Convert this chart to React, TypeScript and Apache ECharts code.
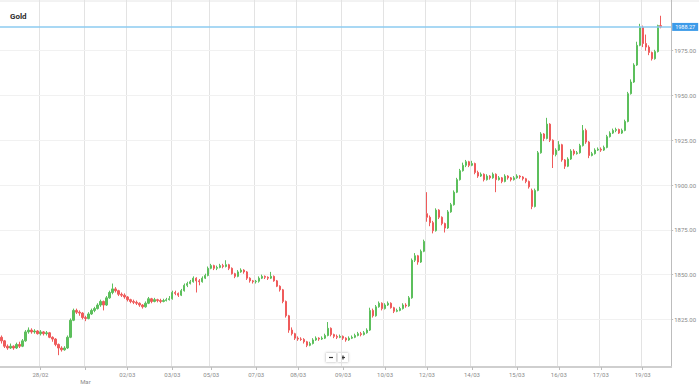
import React, { useEffect, useRef } from 'react';
import * as echarts from 'echarts';

// [open, close, low, high]
const candles: number[][] = [
  [1815, 1813, 1811.5, 1816], [1813, 1810, 1809, 1813.5], [1810, 1809, 1808, 1811], [1809, 1810, 1808.5, 1811.5],
  [1810, 1809, 1808, 1810.5], [1809, 1811, 1808.5, 1812], [1811, 1810, 1809, 1812.5], [1810, 1813, 1809.5, 1814],
  [1813, 1818, 1812.5, 1819], [1818, 1819, 1817, 1820.5], [1819, 1818, 1817, 1820], [1818, 1818.5, 1817, 1819.5],
  [1818.5, 1817, 1816.5, 1819], [1817, 1818, 1816, 1819], [1818, 1817, 1816, 1818.5], [1817, 1817.5, 1816, 1818.5],
  [1817.5, 1815, 1814.5, 1818], [1815, 1814, 1812.5, 1815.5], [1814, 1811, 1810, 1814.5], [1811, 1809, 1805, 1811.5],
  [1809, 1808, 1807, 1810], [1808, 1809, 1807.5, 1810], [1809, 1815, 1808.5, 1816], [1815, 1824.5, 1814.5, 1825.5],
  [1824.5, 1830, 1824, 1831], [1830, 1829, 1828, 1831], [1829, 1828.5, 1827, 1830], [1828.5, 1826, 1825, 1829],
  [1826, 1825.5, 1824, 1827], [1825.5, 1828, 1825, 1829], [1828, 1830, 1827.5, 1831], [1830, 1831, 1829, 1832],
  [1831, 1833, 1830.5, 1834], [1833, 1835, 1832, 1836], [1835, 1833, 1830, 1835.5], [1833, 1837, 1832.5, 1838],
  [1837, 1840, 1836.5, 1841], [1840, 1842, 1839, 1845], [1842, 1841, 1840, 1843], [1841, 1839, 1838, 1841.5],
  [1839, 1838.5, 1837.5, 1840], [1838.5, 1837.5, 1836.5, 1839.5], [1837.5, 1836, 1835, 1838], [1836, 1835, 1834, 1836.5],
  [1835, 1834.5, 1833.5, 1836], [1834.5, 1834, 1833, 1835.5], [1834, 1833, 1832, 1834.5], [1833, 1832, 1831, 1833.5],
  [1832, 1834, 1831.5, 1835], [1834, 1836.5, 1833.5, 1837.5], [1836.5, 1835, 1834, 1837], [1835, 1836, 1834.5, 1837],
  [1836, 1835.5, 1834.5, 1836.5], [1835.5, 1835, 1834, 1836.5], [1835, 1835.5, 1834.5, 1836.5], [1835.5, 1836, 1835, 1837],
  [1836, 1836.5, 1835.5, 1838], [1836.5, 1840, 1836, 1841], [1840, 1839.5, 1838.5, 1841], [1839.5, 1838.5, 1837.5, 1840],
  [1838.5, 1841, 1838, 1842], [1841, 1844, 1840.5, 1845], [1844, 1845, 1843, 1846], [1845, 1846, 1844.5, 1847],
  [1846, 1848, 1845.5, 1849], [1848, 1846.5, 1840, 1848.5], [1846.5, 1846, 1844, 1847.5], [1846, 1848, 1845.5, 1849],
  [1848, 1849.5, 1847.5, 1850.5], [1849.5, 1853.5, 1849, 1854.5], [1853.5, 1855, 1853, 1856], [1855, 1853.5, 1852.5, 1855.5],
  [1853.5, 1854, 1852.5, 1855], [1854, 1855, 1853.5, 1856], [1855, 1854.5, 1853.5, 1856], [1854.5, 1855.5, 1854, 1858],
  [1855.5, 1853.5, 1852.5, 1856], [1853.5, 1850.5, 1850, 1854], [1850.5, 1849, 1848, 1851], [1849, 1851.5, 1848.5, 1852.5],
  [1851.5, 1852.5, 1851, 1853.5], [1852.5, 1851.5, 1850.5, 1853], [1851.5, 1848, 1847, 1852], [1848, 1846.5, 1845.5, 1848.5],
  [1846.5, 1846, 1845, 1847], [1846, 1846.3, 1845, 1847], [1846.3, 1848, 1845.5, 1849], [1848, 1849, 1847.5, 1850],
  [1849, 1848.5, 1847.5, 1849.5], [1848.5, 1848, 1847, 1849], [1848, 1849, 1847.5, 1851.5], [1849, 1846.5, 1846, 1849.5],
  [1846.5, 1843.5, 1843, 1847], [1843.5, 1841.5, 1840.5, 1844], [1841.5, 1835, 1834, 1842], [1835, 1827, 1826, 1835.5],
  [1827, 1819, 1817.5, 1827.5], [1819, 1817, 1816, 1820.5], [1817, 1814.5, 1813.5, 1817.5], [1814.5, 1814, 1813, 1815.5],
  [1814, 1813.8, 1813, 1815], [1813.8, 1812.5, 1811.5, 1814.5], [1812.5, 1810.5, 1809.5, 1813], [1810.5, 1811.5, 1810, 1812.5],
  [1811.5, 1813.5, 1811, 1814.5], [1813.5, 1814.5, 1813, 1815.5], [1814.5, 1814, 1813, 1815], [1814, 1814.5, 1813.5, 1815.5],
  [1814.5, 1816, 1814, 1817], [1816, 1820, 1815.5, 1823.5], [1820, 1816.5, 1815.5, 1820.5], [1816.5, 1815.5, 1814.5, 1817],
  [1815.5, 1815, 1814, 1816.5], [1815, 1815.5, 1814.5, 1816.5], [1815.5, 1814.5, 1813.5, 1816], [1814.5, 1813.5, 1812.5, 1815],
  [1813.5, 1814.5, 1813, 1815.5], [1814.5, 1815, 1814, 1816], [1815, 1816, 1814.5, 1817], [1816, 1817, 1815.5, 1818],
  [1817, 1816.5, 1815.5, 1818], [1816.5, 1817.5, 1816, 1818.5], [1817.5, 1819, 1817, 1820], [1819, 1830, 1818.5, 1831.5],
  [1830, 1827, 1826, 1831], [1827, 1832, 1826.5, 1833], [1832, 1834, 1831.5, 1835], [1834, 1831, 1830, 1834.5],
  [1831, 1833, 1830.5, 1834], [1833, 1834, 1832.5, 1835], [1834, 1831.5, 1831, 1834.5], [1831.5, 1829.5, 1828.5, 1832],
  [1829.5, 1830, 1829, 1831], [1830, 1831, 1829.5, 1832], [1831, 1833, 1830.5, 1834], [1833, 1832.5, 1831.5, 1834],
  [1832.5, 1837, 1832, 1838], [1837, 1858, 1836.5, 1859], [1858, 1860.5, 1857, 1862], [1860.5, 1857, 1855.5, 1861],
  [1857, 1863, 1856.5, 1864], [1863, 1868.5, 1862.5, 1869.5], [1884, 1882, 1879.5, 1896], [1882, 1879, 1877, 1883],
  [1879, 1874.5, 1873, 1880], [1874.5, 1886, 1874, 1887], [1886, 1882, 1881, 1886.5], [1882, 1878.5, 1877.5, 1882.5],
  [1878.5, 1876, 1873.5, 1879], [1876, 1885, 1875.5, 1886], [1885, 1889, 1884.5, 1890], [1889, 1896, 1888.5, 1897],
  [1896, 1903, 1895.5, 1904], [1903, 1908, 1902.5, 1909], [1908, 1911, 1907.5, 1912.5], [1911, 1913, 1910, 1914],
  [1913, 1911, 1910, 1913.5], [1911, 1912, 1910.5, 1913.5], [1912, 1907, 1906, 1912.5], [1907, 1905, 1904, 1908],
  [1905, 1906, 1904.5, 1907], [1906, 1903, 1902, 1906.5], [1903, 1905, 1902.5, 1906], [1905, 1904, 1903, 1905.5],
  [1904, 1906, 1903.5, 1907], [1906, 1903, 1896, 1906.5], [1903, 1904, 1902.5, 1905], [1904, 1902, 1901, 1904.5],
  [1902, 1905, 1901.5, 1906], [1905, 1904, 1903, 1905.5], [1904, 1903, 1902, 1904.5], [1903, 1904, 1902.5, 1905],
  [1904, 1905, 1903.5, 1906], [1905, 1904.5, 1903.5, 1905.5], [1904.5, 1903.5, 1902.5, 1905], [1903.5, 1902, 1901, 1904],
  [1902, 1899, 1898, 1902.5], [1897, 1888, 1886.5, 1898], [1888, 1897, 1887.5, 1898], [1897, 1918, 1896.5, 1919],
  [1918, 1928.5, 1917.5, 1929.5], [1928.5, 1926, 1924.5, 1929], [1926, 1934, 1925.5, 1937.5], [1934, 1925, 1924, 1934.5],
  [1925, 1917, 1909.5, 1925.5], [1917, 1919.5, 1916, 1920.5], [1919.5, 1922.5, 1919, 1924.5], [1922.5, 1914, 1913, 1923],
  [1914, 1910.5, 1909, 1914.5], [1910.5, 1914.5, 1910, 1915.5], [1914.5, 1919, 1914, 1920], [1919, 1917.5, 1916.5, 1920],
  [1917.5, 1918, 1917, 1919], [1918, 1922, 1917.5, 1923], [1922, 1930.5, 1921.5, 1933.5], [1930.5, 1924, 1923, 1931.5],
  [1924, 1916.5, 1915, 1924.5], [1916.5, 1917.5, 1916, 1918.5], [1917.5, 1919.5, 1917, 1920.5], [1919.5, 1920, 1919, 1921],
  [1920, 1919.5, 1918.5, 1921], [1919.5, 1921, 1919, 1922], [1921, 1927, 1920.5, 1928], [1927, 1929, 1926.5, 1930],
  [1929, 1930.5, 1928.5, 1931.5], [1930.5, 1931, 1929.5, 1932], [1931, 1929, 1928.5, 1931.5], [1929, 1930.5, 1928.5, 1931.5],
  [1930.5, 1935.5, 1930, 1936.5], [1935.5, 1951, 1935, 1952], [1951, 1957.5, 1950.5, 1959], [1957.5, 1967, 1957, 1968],
  [1967, 1978, 1966.5, 1980], [1978, 1988, 1977.5, 1990], [1988, 1979, 1977, 1989], [1979, 1977, 1975, 1984],
  [1977, 1974, 1972.5, 1978], [1974, 1970.5, 1969.5, 1974.5], [1970.5, 1974.5, 1970, 1975.5], [1974.5, 1989, 1974, 1989.5],
  [1989, 1988.27, 1987.5, 1994.5],
];

const slotCount = 224;
const tickIndex = [13, 28, 42, 57, 70, 85, 99, 114, 128, 142, 157, 172, 186, 200, 214];
const tickText = ['28/02', 'Mar', '02/03', '03/03', '05/03', '07/03', '08/03', '09/03', '10/03', '12/03', '14/03', '15/03', '16/03', '17/03', '19/03'];
const yTicks = [1825, 1850, 1875, 1900, 1925, 1950, 1975];
const yMin = 1798.4;
const yMax = 2003.3;
const lastPrice = 1988.27;
const title = 'Gold';

const UP = '#5cbf5c';
const DOWN = '#ef5b5b';
const FONT = 'Roboto, "Noto Sans", sans-serif';

export default function App() {
  const ref = useRef<HTMLDivElement>(null);
  useEffect(() => {
    if (!ref.current) return;
    const chart = echarts.init(ref.current, undefined, { renderer: 'svg' });
    const categories = Array.from({ length: slotCount }, (_, i) => String(i));
    const labelAt = new Map<number, string>();
    tickIndex.forEach((idx, k) => labelAt.set(idx, tickText[k]));
    const showAt = (index: number) => labelAt.has(index);

    chart.setOption({
      animation: false,
      backgroundColor: '#ffffff',
      textStyle: { fontFamily: FONT },
      grid: { left: 0, right: 26, top: 0, bottom: 19, containLabel: false },
      xAxis: {
        type: 'category',
        data: categories,
        boundaryGap: true,
        axisLine: { show: true, lineStyle: { color: '#cfcfcf', width: 2 } },
        axisTick: { show: true, interval: showAt, alignWithLabel: true, length: 3, lineStyle: { color: '#bdbdbd' } },
        axisLabel: {
          show: true,
          interval: showAt,
          formatter: (_v: string, index: number) => {
            const t = labelAt.get(index) || '';
            return t === 'Mar' ? '\nMar' : t;
          },
          fontSize: 6,
          lineHeight: 7,
          color: '#8a8a8a',
          margin: 4,
          fontFamily: FONT,
        },
        splitLine: { show: true, interval: showAt, lineStyle: { color: '#e3e3e3', width: 1 } },
      },
      yAxis: {
        type: 'value',
        position: 'right',
        min: yMin,
        max: yMax,
        scale: true,
        axisLine: { show: true, lineStyle: { color: '#bdbdbd', width: 1 } },
        axisTick: { show: true, customValues: yTicks, length: 2, lineStyle: { color: '#bdbdbd' } },
        axisLabel: {
          show: true,
          customValues: yTicks,
          formatter: (v: number) => v.toFixed(2),
          fontSize: 6,
          color: '#8a8a8a',
          margin: 3,
          fontFamily: FONT,
        },
        splitLine: { show: false },
      },
      series: [
        {
          type: 'line',
          data: [],
          silent: true,
          markLine: {
            silent: true,
            symbol: ['none', 'none'],
            z: 0,
            label: { show: false },
            lineStyle: { color: '#f1f1f1', width: 1, type: 'solid' },
            data: yTicks.map((v) => ({ yAxis: v })),
          },
        },
        {
          type: 'candlestick',
          data: candles,
          barWidth: 1.9,
          z: 3,
          itemStyle: {
            color: UP,
            color0: DOWN,
            borderColor: UP,
            borderColor0: DOWN,
            borderWidth: 1,
          },
          markLine: {
            silent: true,
            symbol: ['none', 'none'],
            z: 6,
            lineStyle: { color: '#8ccbf1', width: 1.5, type: 'solid', opacity: 1 },
            label: {
              show: true,
              position: 'end',
              distance: 1,
              formatter: lastPrice.toFixed(2),
              backgroundColor: '#3d9be9',
              color: '#ffffff',
              fontSize: 5.5,
              padding: [1, 3, 1, 3],
              fontFamily: FONT,
            },
            data: [{ yAxis: lastPrice }],
          },
        },
      ],
      graphic: [
        { type: 'line', shape: { x1: 0, y1: 1, x2: 699, y2: 1 }, style: { stroke: '#e6e6e6', lineWidth: 1 }, silent: true },
        {
          type: 'text',
          left: 10,
          top: 12,
          style: { text: title, font: `bold 8px ${FONT}`, fill: '#2a2a2a' },
        },
        {
          type: 'group',
          left: 325,
          top: 352,
          children: [
            { type: 'rect', shape: { x: 0, y: 0, width: 11, height: 10, r: 1 }, style: { fill: '#ffffff', stroke: '#e2e2e2', lineWidth: 1, shadowBlur: 2, shadowColor: 'rgba(0,0,0,0.12)' } },
            { type: 'rect', shape: { x: 12, y: 0, width: 11, height: 10, r: 1 }, style: { fill: '#ffffff', stroke: '#e2e2e2', lineWidth: 1, shadowBlur: 2, shadowColor: 'rgba(0,0,0,0.12)' } },
            { type: 'line', shape: { x1: 3.5, y1: 5, x2: 7.5, y2: 5 }, style: { stroke: '#333', lineWidth: 1.2 } },
            { type: 'line', shape: { x1: 15.5, y1: 5, x2: 19.5, y2: 5 }, style: { stroke: '#333', lineWidth: 1.2 } },
            { type: 'line', shape: { x1: 17.5, y1: 3, x2: 17.5, y2: 7 }, style: { stroke: '#333', lineWidth: 1.2 } },
          ],
        },
      ],
    });
    return () => chart.dispose();
  }, []);

  return (
    <div
      ref={ref}
      style={{ position: 'absolute', left: 0, top: 0, width: 699, height: 386, background: '#fff' }}
    />
  );
}
